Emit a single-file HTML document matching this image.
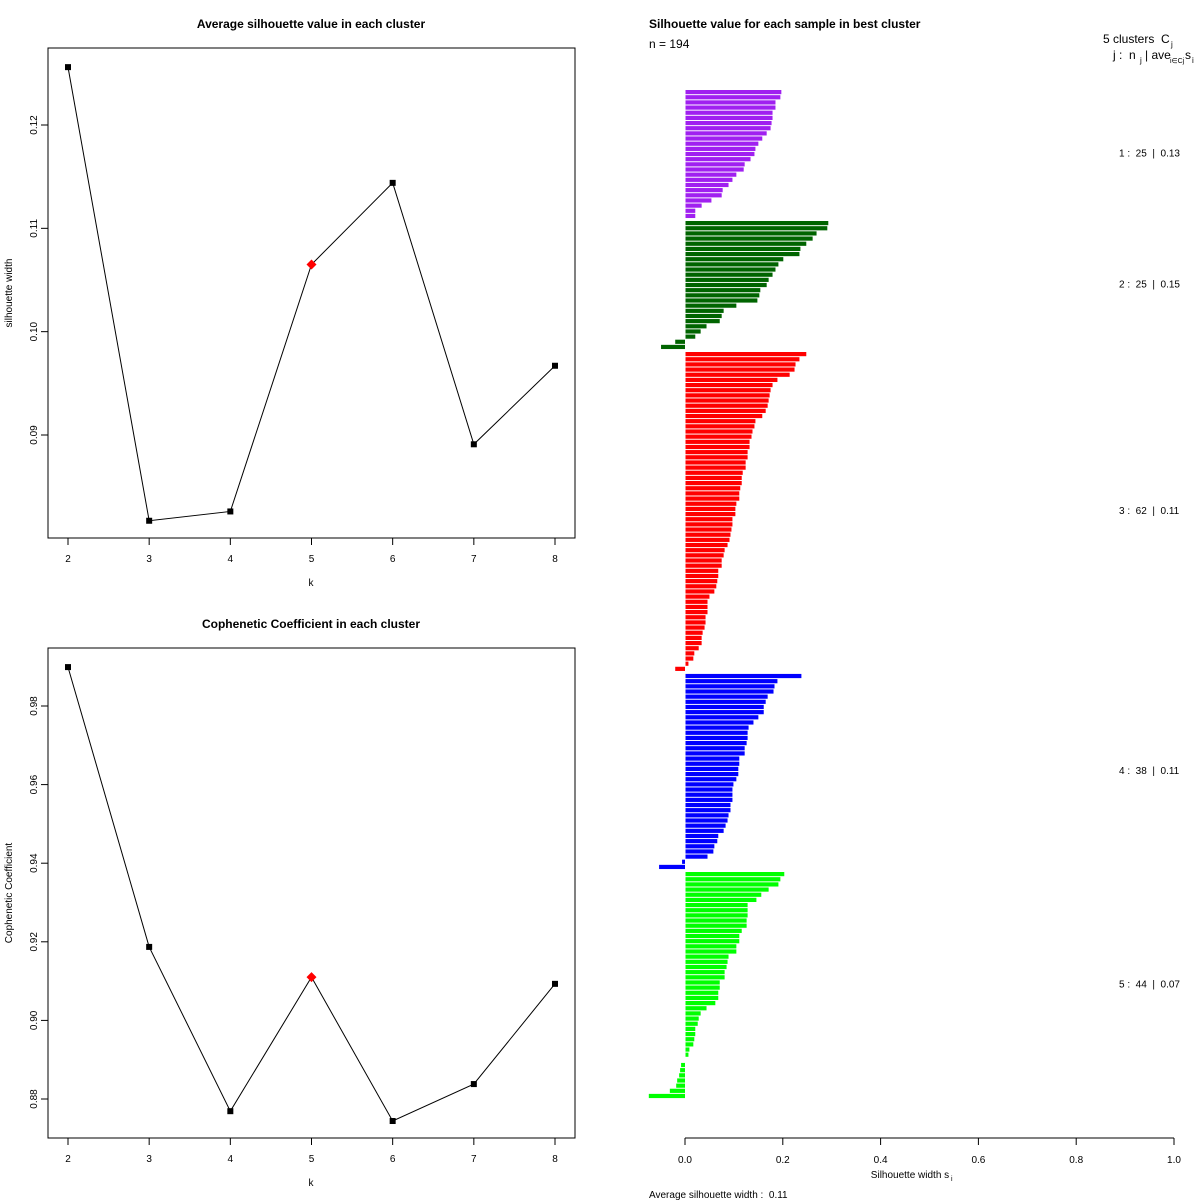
<!DOCTYPE html>
<html><head><meta charset="utf-8"><style>
body{margin:0;background:#fff}
svg{display:block;font-family:"Liberation Sans",Arial,sans-serif}
text{white-space:pre}
</style></head><body>
<svg id="c" width="1200" height="1200" viewBox="0 0 1200 1200" xml:space="preserve"></svg>
<script>
const ks=[2,3,4,5,6,7,8];
const silAvg=[0.1256,0.0817,0.0826,0.1065,0.1144,0.0891,0.0967];
const coph=[0.9899,0.9187,0.8769,0.9110,0.8744,0.8838,0.9093];
const bestK=5;
const silTicks=[0.09,0.10,0.11,0.12];
const cophTicks=[0.88,0.90,0.92,0.94,0.96,0.98];
const clusterColors=["#a020f0","#006400","#ff0000","#0000ff","#00ff00"];
const clusterAvg=["0.13","0.15","0.11","0.11","0.07"];
const c1=[0.196,0.194,0.184,0.184,0.178,0.178,0.176,0.174,0.166,0.157,0.149,0.143,0.141,0.133,0.121,0.119,0.104,0.096,0.088,0.076,0.074,0.053,0.033,0.020,0.020];
const c2=[0.292,0.290,0.268,0.260,0.247,0.235,0.233,0.200,0.190,0.184,0.178,0.170,0.166,0.153,0.151,0.147,0.104,0.078,0.074,0.070,0.043,0.031,0.020,-0.020,-0.049];
const c3=[0.247,0.233,0.225,0.223,0.213,0.188,0.178,0.174,0.172,0.170,0.168,0.164,0.157,0.143,0.141,0.137,0.135,0.131,0.131,0.127,0.127,0.123,0.123,0.117,0.115,0.115,0.112,0.110,0.110,0.104,0.102,0.102,0.096,0.096,0.094,0.092,0.090,0.086,0.080,0.078,0.074,0.074,0.067,0.067,0.065,0.063,0.059,0.049,0.045,0.045,0.045,0.041,0.041,0.039,0.035,0.033,0.033,0.027,0.018,0.016,0.006,-0.020];
const c4=[0.237,0.188,0.182,0.180,0.168,0.164,0.160,0.160,0.149,0.139,0.129,0.127,0.127,0.125,0.121,0.121,0.110,0.110,0.108,0.108,0.104,0.098,0.096,0.096,0.096,0.092,0.092,0.088,0.086,0.082,0.078,0.067,0.065,0.059,0.057,0.045,-0.006,-0.053];
const c5=[0.202,0.194,0.190,0.170,0.155,0.145,0.127,0.127,0.127,0.125,0.125,0.115,0.110,0.110,0.104,0.104,0.088,0.086,0.084,0.080,0.080,0.070,0.070,0.067,0.067,0.061,0.043,0.031,0.027,0.025,0.020,0.020,0.018,0.016,0.008,0.006,0,-0.008,-0.010,-0.012,-0.016,-0.018,-0.031,-0.074];
const xTicksSil=[0,0.2,0.4,0.6,0.8,1.0];
const clusters=[c1,c2,c3,c4,c5];

const svg=document.getElementById('c');
const NS="http://www.w3.org/2000/svg";
function mk(tag,attrs,parent){const e=document.createElementNS(NS,tag);for(const k in attrs)e.setAttribute(k,attrs[k]);(parent||svg).appendChild(e);return e;}
function txt(x,y,s,o){o=o||{};const e=mk('text',{x:x,y:y,'font-size':o.fs||11,'text-anchor':o.a||'middle',fill:'#000','font-weight':o.b?'bold':'normal'});if(o.rot)e.setAttribute('transform','rotate(-90 '+x+' '+y+')');e.textContent=s;return e;}

function linePanel(vals,ticks,yMap,top,title,ylab,name){
  const g=mk('g',{});
  
  
  const xMap=k=>68+(k-2)*(555-68)/6;
  const box=mk('rect',{x:48,y:top,width:527,height:490,fill:'none',stroke:'#000','stroke-width':1},g);
  
  const t=txt(311,top-20,title,{b:1,fs:12});g.appendChild(t);
  
  ks.forEach(k=>{mk('line',{x1:xMap(k),x2:xMap(k),y1:top+490,y2:top+497,stroke:'#000'},g);g.appendChild(txt(xMap(k),top+514,String(k),{fs:10}));});
  ticks.forEach(v=>{const y=yMap(v);mk('line',{x1:41,x2:48,y1:y,y2:y,stroke:'#000'},g);g.appendChild(txt(37,y,v.toFixed(2),{fs:10,rot:1}));});
  const xl=txt(311,top+538,'k',{fs:10});g.appendChild(xl);
  const yl=txt(12,top+245,ylab,{fs:10,rot:1});g.appendChild(yl);
  const pts=ks.map((k,i)=>xMap(k)+','+yMap(vals[i])).join(' ');
  const pl=mk('polyline',{points:pts,fill:'none',stroke:'#000','stroke-width':1},g);
  
  ks.forEach((k,i)=>{const x=xMap(k),y=yMap(vals[i]);let m;
    if(k===bestK){m=mk('polygon',{points:`${x},${y-5} ${x+5},${y} ${x},${y+5} ${x-5},${y}`,fill:'#ff0000'},g);}
    else{m=mk('rect',{x:x-3,y:y-3,width:6,height:6,fill:'#000'},g);}
    });
}
linePanel(silAvg,silTicks,v=>125-(v-0.12)*10333,48,'Average silhouette value in each cluster','silhouette width','silhouette-avg-panel');
linePanel(coph,cophTicks,v=>706-(v-0.98)*3930,648,'Cophenetic Coefficient in each cluster','Cophenetic Coefficient','cophenetic-panel');

// silhouette bar plot
const sx=v=>685+v*489;
const g2=mk('g',{});


let t2=txt(649,28,'Silhouette value for each sample in best cluster',{b:1,fs:12,a:'start'});g2.appendChild(t2);

g2.appendChild(txt(649,48,'n = 194',{fs:12,a:'start'}));
g2.appendChild(txt(1103,43,'5 clusters  C',{fs:12,a:'start'}));
g2.appendChild(txt(1171,47,'j',{fs:8,a:'start'}));
g2.appendChild(txt(1113,59,'j :  n',{fs:12,a:'start'}));
g2.appendChild(txt(1140,63,'j',{fs:8,a:'start'}));
g2.appendChild(txt(1145,59,'| ave',{fs:12,a:'start'}));
g2.appendChild(txt(1170,63,'i∈Cj',{fs:7,a:'start'}));
g2.appendChild(txt(1185,59,'s',{fs:12,a:'start'}));
g2.appendChild(txt(1192,63,'i',{fs:8,a:'start'}));
const pitch=5.16,gap=2;let idx=0;
clusters.forEach((arr,ci)=>{
  const yStart=90+idx*pitch+ci*gap;
  arr.forEach((v,j)=>{
    const y=90+(idx+j)*pitch+ci*gap;
    const x0=v>=0?sx(0)+0.5:sx(v);
    const w=Math.abs(v)*489;
    const r=mk('rect',{x:x0,y:y,width:Math.max(w,0),height:4.2,fill:clusterColors[ci]},g2);
    
    
  });
  const yMid=yStart+arr.length*pitch/2+2;
  const lb=txt(1119,yMid,(ci+1)+' :  '+arr.length+'  |  '+clusterAvg[ci],{fs:10,a:'start'});g2.appendChild(lb);
  
  idx+=arr.length;
});
mk('line',{x1:sx(0),x2:sx(1),y1:1138,y2:1138,stroke:'#000'},g2);
xTicksSil.forEach(v=>{mk('line',{x1:sx(v),x2:sx(v),y1:1138,y2:1145,stroke:'#000'},g2);g2.appendChild(txt(sx(v),1163,v.toFixed(1),{fs:10}));});
let xt=txt(910,1178,'Silhouette width s',{fs:10});g2.appendChild(xt);

g2.appendChild(txt(951,1181,'i',{fs:7,a:'start'}));
let av=txt(649,1198,'Average silhouette width :  0.11',{fs:10,a:'start'});g2.appendChild(av);

</script>
</body></html>
